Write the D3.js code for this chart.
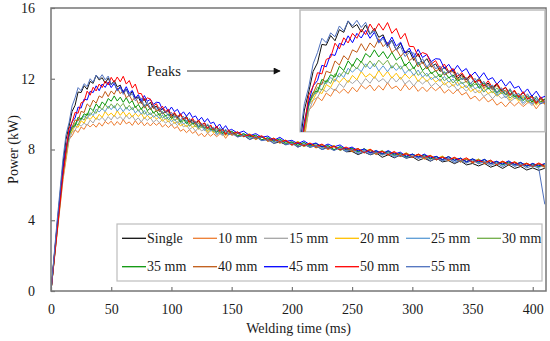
<!DOCTYPE html>
<html>
<head>
<meta charset="utf-8">
<script src="https://cdn.jsdelivr.net/npm/d3@7"></script>
<style>
  body { margin: 0; background: #fff; }
  svg text { font-family: "Liberation Serif", "DejaVu Serif", "Noto Serif", "Times New Roman", serif; fill: #1a1a1a; }
</style>
</head>
<body>
<div id="chart"></div>
<script>
var serifFont = "'Liberation Serif', 'DejaVu Serif', 'Noto Serif', 'Times New Roman', serif";

// Welding time (ms), shared by every series (finer around the peaks)
var timeMs = [0,5,10,
  12.5,15,17.5,20,22.5,25,27.5,30,32.5,35,37.5,40,42.5,45,47.5,50,52.5,55,57.5,60,62.5,65,67.5,70,72.5,75,77.5,
  80,82.5,85,87.5,90,92.5,95,97.5,100,102.5,105,107.5,110,112.5,115,117.5,120,122.5,125,127.5,130,132.5,135,137.5,140,142.5,145,147.5,
  150,155,160,165,170,175,180,185,190,195,200,205,210,215,220,225,230,235,240,245,250,255,260,265,270,275,280,285,290,295,
  300,305,310,315,320,325,330,335,340,345,350,355,360,365,370,375,380,385,390,395,400,405,410];

// Power (kW) per series
var single = [0,3.7,7.2,
  8.58,9.32,10.15,10.5,11.25,11.22,11.61,11.4,11.85,11.74,12.2,11.93,12.06,11.75,12.04,11.66,11.9,11.54,11.64,11.2,11.42,11.02,11.3,10.9,10.98,10.6,10.88,
  10.48,10.67,10.33,10.46,10.15,10.32,10.09,10.23,9.86,10.04,9.8,10.0,9.72,9.87,9.55,9.68,9.43,9.65,9.36,9.5,9.2,9.36,9.06,9.3,9.04,9.17,8.9,9.05,
  8.97,8.73,8.80,8.57,8.71,8.52,8.63,8.35,8.43,8.27,8.40,8.14,8.28,8.14,8.24,8.00,8.14,7.97,8.11,7.87,7.89,7.71,7.86,7.70,7.81,7.56,7.70,7.53,7.68,7.51,
  7.59,7.38,7.51,7.34,7.51,7.30,7.37,7.20,7.36,7.13,7.21,7.07,7.21,7.00,7.12,6.93,7.13,6.93,7.04,6.84,6.96,6.82,6.94];
var mm10 = [0,3.2,6.3,
  7.42,8.58,8.77,9.11,8.96,9.27,9.14,9.44,9.27,9.44,9.26,9.51,9.32,9.59,9.44,9.6,9.36,9.58,9.39,9.69,9.45,9.56,9.36,9.63,9.4,9.59,9.34,
  9.52,9.33,9.53,9.37,9.52,9.27,9.42,9.24,9.42,9.19,9.3,9.03,9.15,8.95,9.12,8.91,9.03,8.78,8.91,8.71,8.92,8.75,8.9,8.72,8.87,8.9,8.63,8.87,
  8.87,8.98,8.72,8.79,8.56,8.72,8.53,8.58,8.35,8.52,8.29,8.35,8.17,8.33,8.11,8.21,7.99,8.16,8.00,8.10,7.89,7.98,7.80,7.99,7.78,7.88,7.67,7.77,7.62,7.77,
  7.57,7.68,7.45,7.60,7.47,7.58,7.37,7.54,7.35,7.43,7.24,7.39,7.23,7.36,7.12,7.26,7.11,7.26,7.10,7.20,7.04,7.18,7.04];
var mm15 = [0,3.3,6.4,
  7.66,8.52,8.99,9.09,9.44,9.32,9.49,9.36,9.66,9.5,9.79,9.66,9.82,9.61,9.86,9.67,9.94,9.73,9.86,9.66,9.93,9.72,9.92,9.64,9.79,9.56,9.8,
  9.64,9.8,9.54,9.69,9.52,9.7,9.49,9.62,9.38,9.53,9.35,9.52,9.28,9.38,9.13,9.26,9.04,9.24,9.05,9.15,8.92,9.05,9.07,8.8,8.97,8.76,8.97,8.83,
  8.98,8.76,8.90,8.68,8.80,8.54,8.61,8.40,8.53,8.36,8.45,8.21,8.32,8.11,8.27,8.09,8.21,8.00,8.10,7.90,8.09,7.88,7.98,7.77,7.88,7.72,7.87,7.61,7.76,7.59,
  7.73,7.56,7.65,7.44,7.57,7.36,7.55,7.37,7.48,7.29,7.46,7.25,7.34,7.16,7.32,7.17,7.29,7.06,7.20,7.04,7.22,7.03,7.12];
var mm20 = [0,3.3,6.5,
  7.64,8.78,9.0,9.35,9.25,9.62,9.5,9.85,9.7,9.9,9.7,9.99,9.81,10.15,9.92,10.06,9.87,10.19,9.93,10.15,9.88,10.08,9.83,10.05,9.86,10.05,9.74,
  9.94,9.74,9.92,9.72,9.85,9.6,9.75,9.55,9.72,9.48,9.58,9.33,9.46,9.27,9.47,9.25,9.35,9.14,9.27,9.27,8.98,9.15,8.93,9.12,8.9,9.02,8.78,8.94,
  8.85,8.97,8.78,8.89,8.63,8.71,8.47,8.63,8.42,8.53,8.30,8.46,8.26,8.34,8.12,8.28,8.08,8.23,7.99,8.08,7.90,8.04,7.89,8.02,7.78,7.93,7.74,7.84,7.63,7.82,
  7.61,7.71,7.50,7.67,7.48,7.63,7.40,7.51,7.33,7.50,7.33,7.46,7.24,7.34,7.17,7.34,7.16,7.31,7.12,7.23,7.05,7.21,7.05];
var mm25 = [0,3.4,6.6,
  7.82,8.72,9.21,9.29,9.71,9.65,9.91,9.74,10.08,9.91,10.28,10.12,10.31,10.14,10.46,10.25,10.48,10.17,10.38,10.14,10.39,10.19,10.38,10.06,10.25,9.99,10.21,
  9.92,10.08,9.82,9.95,9.75,9.95,9.72,9.84,9.57,9.72,9.48,9.68,9.45,9.55,9.31,9.46,9.48,9.17,9.33,9.07,9.28,9.05,9.15,8.87,9.02,8.82,9.03,8.83,
  9.04,8.80,8.88,8.64,8.73,8.50,8.64,8.45,8.55,8.30,8.41,8.23,8.39,8.17,8.23,8.03,8.21,7.98,8.09,7.92,8.07,7.81,7.96,7.79,7.95,7.76,7.85,7.63,7.75,7.55,
  7.73,7.54,7.65,7.49,7.61,7.38,7.51,7.30,7.50,7.33,7.42,7.21,7.41,7.20,7.29,7.11,7.27,7.08,7.24,7.07,7.16,6.98,7.14];
var mm30 = [0,3.4,6.7,
  7.79,8.88,9.13,9.51,9.39,9.8,9.66,10.06,9.92,10.16,10.04,10.44,10.25,10.56,10.32,10.58,10.34,10.61,10.42,10.61,10.28,10.5,10.24,10.46,10.17,10.33,9.99,
  10.16,9.95,10.13,9.9,10.04,9.77,9.92,9.68,9.88,9.65,9.75,9.51,9.63,9.63,9.32,9.5,9.27,9.48,9.25,9.35,9.07,9.22,9.0,9.18,8.92,9.02,8.82,9.04,
  8.88,8.98,8.72,8.82,8.58,8.72,8.54,8.64,8.37,8.47,8.29,8.43,8.17,8.31,8.16,8.27,8.05,8.20,7.94,8.08,7.95,8.05,7.82,7.97,7.79,7.94,7.71,7.80,7.62,7.79,
  7.59,7.74,7.54,7.64,7.41,7.60,7.41,7.52,7.32,7.44,7.28,7.45,7.27,7.38,7.16,7.29,7.13,7.28,7.10,7.22,7.02,7.16,7.04];
var mm35 = [0,3.5,6.8,
  8.0,8.82,9.3,9.34,9.83,9.71,10.02,9.92,10.36,10.19,10.58,10.36,10.69,10.52,10.88,10.73,11.03,10.74,10.96,10.67,10.93,10.61,10.76,10.37,10.55,10.26,10.53,
  10.19,10.35,10.06,10.19,9.92,10.14,9.89,10.01,9.75,9.88,9.89,9.56,9.73,9.46,9.69,9.44,9.56,9.26,9.42,9.19,9.39,9.12,9.19,8.96,9.16,8.9,9.09,8.91,
  9.03,8.77,8.89,8.72,8.81,8.55,8.67,8.47,8.60,8.35,8.43,8.24,8.40,8.20,8.34,8.14,8.22,7.99,8.17,7.98,8.08,7.86,8.05,7.84,7.91,7.73,7.90,7.68,7.79,7.58,
  7.74,7.59,7.70,7.47,7.60,7.43,7.60,7.40,7.51,7.30,7.47,7.28,7.44,7.21,7.32,7.14,7.30,7.15,7.27,7.05,7.19,7.03,7.19];
var mm40 = [0,3.5,6.8,
  7.93,8.98,9.26,9.67,9.62,10.16,10.09,10.58,10.41,10.79,10.62,11.03,10.93,11.28,10.99,11.31,11.12,11.48,11.16,11.34,10.92,11.07,10.76,10.98,10.59,10.73,10.34,
  10.54,10.25,10.44,10.16,10.26,10.0,10.13,10.14,9.81,9.98,9.71,9.94,9.69,9.79,9.46,9.62,9.39,9.59,9.32,9.39,9.16,9.36,9.1,9.29,9.06,9.15,8.86,9.03,
  8.80,8.91,8.74,8.84,8.60,8.74,8.46,8.56,8.41,8.50,8.23,8.39,8.22,8.33,8.09,8.21,8.03,8.20,7.98,8.05,7.87,8.03,7.82,7.93,7.71,7.88,7.73,7.83,7.60,7.72,
  7.55,7.72,7.51,7.62,7.41,7.54,7.40,7.52,7.28,7.45,7.28,7.41,7.19,7.31,7.16,7.33,7.13,7.24,7.04,7.18,7.05,7.18,6.98];
var mm45 = [0,3.6,6.9,
  8.13,8.92,9.57,9.78,10.4,10.34,10.85,10.8,11.29,11.22,11.6,11.32,11.7,11.51,11.82,11.5,11.74,11.35,11.56,11.24,11.55,11.18,11.34,10.9,11.1,10.72,11.05,
  10.72,10.84,10.55,10.67,10.65,10.27,10.44,10.15,10.4,10.14,10.27,9.95,10.13,9.88,10.1,9.81,9.9,9.63,9.82,9.55,9.75,9.47,9.55,9.25,9.44,9.14,9.35,9.07,
  9.14,8.92,9.04,8.78,8.90,8.69,8.76,8.52,8.69,8.46,8.52,8.33,8.49,8.27,8.37,8.15,8.31,8.15,8.26,8.02,8.14,7.92,8.03,7.82,7.93,7.77,7.94,7.74,7.85,7.62,
  7.74,7.57,7.74,7.53,7.61,7.43,7.60,7.39,7.51,7.30,7.47,7.32,7.44,7.21,7.34,7.18,7.36,7.15,7.27,7.07,7.21,7.08,7.21];
var mm50 = [0,3.3,6.6,
  7.95,9.18,9.54,10.1,10.05,10.64,10.72,11.3,11.07,11.52,11.31,11.7,11.5,11.86,11.65,12.08,11.79,12.1,11.83,12.14,11.7,11.9,11.47,11.7,11.17,11.16,10.76,
  10.92,10.85,10.45,10.59,10.25,10.45,10.14,10.27,9.95,10.1,9.83,10.03,9.71,9.8,9.55,9.77,9.5,9.67,9.4,9.5,9.2,9.39,9.11,9.33,9.02,9.11,8.85,9.12,
  8.88,9.00,8.74,8.84,8.67,8.78,8.52,8.64,8.43,8.52,8.27,8.40,8.21,8.37,8.17,8.31,8.07,8.18,7.98,8.14,7.96,8.05,7.82,8.01,7.81,7.89,7.71,7.89,7.66,7.77,
  7.57,7.74,7.57,7.66,7.43,7.58,7.41,7.56,7.38,7.53,7.28,7.40,7.25,7.40,7.16,7.33,7.18,7.30,7.08,7.22,7.06,7.24,7.06];
var mm55 = [0,3.9,7.5,
  8.84,9.52,10.46,10.92,11.5,11.32,11.72,11.56,12.0,11.8,12.21,12.0,12.23,11.94,12.15,11.68,11.79,11.3,11.5,11.12,11.4,11.02,11.16,10.76,10.92,10.9,10.42,
  10.67,10.33,10.55,10.26,10.37,10.03,10.18,9.9,10.1,9.81,9.9,9.65,9.87,9.58,9.75,9.5,9.6,9.3,9.49,9.21,9.45,9.17,9.26,9.0,9.24,8.96,9.15,8.83,
  8.92,8.70,8.82,8.56,8.72,8.50,8.55,8.34,8.51,8.26,8.35,8.13,8.31,8.12,8.21,7.99,8.11,7.94,8.10,7.88,8.01,7.75,7.89,7.71,7.85,7.68,7.81,7.55,7.70,7.51,
  7.65,7.49,7.61,7.36,7.51,7.34,7.49,7.26,7.39,7.23,7.40,7.19,7.31,7.10,7.24,7.03,7.23,7.05,7.16,6.96,7.10,6.94,4.90];

var seriesNames = ["Single", "10 mm", "15 mm", "20 mm", "25 mm", "30 mm", "35 mm", "40 mm", "45 mm", "50 mm", "55 mm"];
var seriesValues = [single, mm10, mm15, mm20, mm25, mm30, mm35, mm40, mm45, mm50, mm55];
var seriesColors = ["#111111", "#ed7d31", "#a5a5a5", "#ffc000", "#5b9bd5", "#70ad47", "#0a960a", "#c05a16", "#0000ff", "#ff0000", "#4f71be"];

var xTicks = [0, 50, 100, 150, 200, 250, 300, 350, 400];
var yTicks = [0, 4, 8, 12, 16];

seriesValues.forEach(function(v, k) {
  if (v.length !== timeMs.length) console.log("length mismatch", seriesNames[k], v.length, timeMs.length);
});

// SVG and plot area
var svgWidth = 550;
var svgHeight = 341;
var plot = { left: 51, right: 546, top: 8, bottom: 291 };
var inset = { left: 300, right: 545, top: 10, bottom: 131.7 };

var svg = d3.select("#chart")
  .append("svg")
  .attr("width", svgWidth)
  .attr("height", svgHeight);

var defs = svg.append("defs");
defs.append("clipPath").attr("id", "plotClip")
  .append("rect")
  .attr("x", plot.left).attr("y", plot.top)
  .attr("width", plot.right - plot.left).attr("height", plot.bottom - plot.top);
defs.append("clipPath").attr("id", "insetClip")
  .append("rect")
  .attr("x", inset.left).attr("y", inset.top)
  .attr("width", inset.right - inset.left).attr("height", inset.bottom - inset.top);
var marker = defs.append("marker")
  .attr("id", "arrowHead")
  .attr("viewBox", "0 0 10 10")
  .attr("refX", 9).attr("refY", 5)
  .attr("markerWidth", 9).attr("markerHeight", 7)
  .attr("markerUnits", "userSpaceOnUse")
  .attr("orient", "auto");
marker.append("path").attr("d", "M0,0 L10,5 L0,10 Z").attr("fill", "#111");

// Scales
var xScale = d3.scaleLinear().domain([0, 411]).range([plot.left, plot.right]);
var yScale = d3.scaleLinear().domain([0, 16]).range([plot.bottom, plot.top]);
var xInset = d3.scaleLinear().domain([10, 150]).range([inset.left, inset.right]);
var yInset = d3.scaleLinear().domain([7.7, 12.65]).range([inset.bottom, inset.top]);

function makeLine(xs, ys) {
  return d3.line()
    .x(function(d, i) { return xs(timeMs[i]); })
    .y(function(d) { return ys(d); });
}

// Main lines
var mainGroup = svg.append("g").attr("clip-path", "url(#plotClip)");
seriesValues.forEach(function(vals, k) {
  mainGroup.append("path")
    .datum(vals)
    .attr("fill", "none")
    .attr("stroke", seriesColors[k])
    .attr("stroke-width", 1)
    .attr("stroke-linejoin", "round")
    .attr("d", makeLine(xScale, yScale));
});

// Axes (ticks point inward)
var axisColor = "#767676";
var leftAxis = d3.axisLeft(yScale).tickValues(yTicks).tickSize(-4).tickPadding(16);
var bottomAxis = d3.axisBottom(xScale).tickValues(xTicks).tickSize(-4).tickPadding(13);

var yAxis = svg.append("g")
  .attr("transform", "translate(" + plot.left + ",0)")
  .call(leftAxis);
var xAxis = svg.append("g")
  .attr("transform", "translate(0," + plot.bottom + ")")
  .call(bottomAxis);

[xAxis, yAxis].forEach(function(ax) {
  ax.attr("font-family", null);
  ax.select(".domain").remove();
  ax.selectAll(".tick line").attr("stroke", axisColor).attr("stroke-width", 1.2);
  ax.selectAll(".tick text")
    .style("font-family", serifFont)
    .style("font-size", "14px")
    .attr("fill", "#1a1a1a");
});

// Plot frame
svg.append("rect")
  .attr("x", plot.left).attr("y", plot.top)
  .attr("width", plot.right - plot.left).attr("height", plot.bottom - plot.top)
  .attr("fill", "none")
  .attr("stroke", axisColor)
  .attr("stroke-width", 1.5);

// Axis titles
svg.append("text")
  .attr("x", (plot.left + plot.right) / 2)
  .attr("y", 333)
  .attr("text-anchor", "middle")
  .style("font-family", serifFont)
  .style("font-size", "14px")
  .text("Welding time (ms)");

svg.append("text")
  .attr("transform", "translate(18," + ((plot.top + plot.bottom) / 2) + ") rotate(-90)")
  .attr("text-anchor", "middle")
  .style("font-family", serifFont)
  .style("font-size", "14px")
  .text("Power (kW)");

// Inset with the peaks
svg.append("rect")
  .attr("x", inset.left).attr("y", inset.top)
  .attr("width", inset.right - inset.left).attr("height", inset.bottom - inset.top)
  .attr("fill", "#fff")
  .attr("stroke", "#bdbdbd")
  .attr("stroke-width", 1.5);

var insetGroup = svg.append("g").attr("clip-path", "url(#insetClip)");
seriesValues.forEach(function(vals, k) {
  insetGroup.append("path")
    .datum(vals)
    .attr("fill", "none")
    .attr("stroke", seriesColors[k])
    .attr("stroke-width", 1)
    .attr("stroke-linejoin", "round")
    .attr("d", makeLine(xInset, yInset));
});

// Peaks label and arrow
svg.append("text")
  .attr("x", 147)
  .attr("y", 76)
  .style("font-family", serifFont)
  .style("font-size", "14.5px")
  .text("Peaks");

svg.append("line")
  .attr("x1", 187).attr("y1", 71)
  .attr("x2", 280).attr("y2", 71)
  .attr("stroke", "#333")
  .attr("stroke-width", 1)
  .attr("marker-end", "url(#arrowHead)");

// Legend
var legend = svg.append("g");
legend.append("rect")
  .attr("x", 117).attr("y", 224)
  .attr("width", 425).attr("height", 57)
  .attr("fill", "#fff")
  .attr("stroke", "#bdbdbd")
  .attr("stroke-width", 1.2);

seriesNames.forEach(function(name, k) {
  var col = k % 6;
  var row = Math.floor(k / 6);
  var lx = 122 + col * 71;
  var ly = 238.3 + row * 28.4;
  legend.append("line")
    .attr("x1", lx).attr("x2", lx + 24)
    .attr("y1", ly).attr("y2", ly)
    .attr("stroke", seriesColors[k])
    .attr("stroke-width", 1.3);
  legend.append("text")
    .attr("x", lx + 25)
    .attr("y", ly + 4.5)
    .style("font-family", serifFont)
    .style("font-size", "14px")
    .text(name);
});
</script>
</body>
</html>
